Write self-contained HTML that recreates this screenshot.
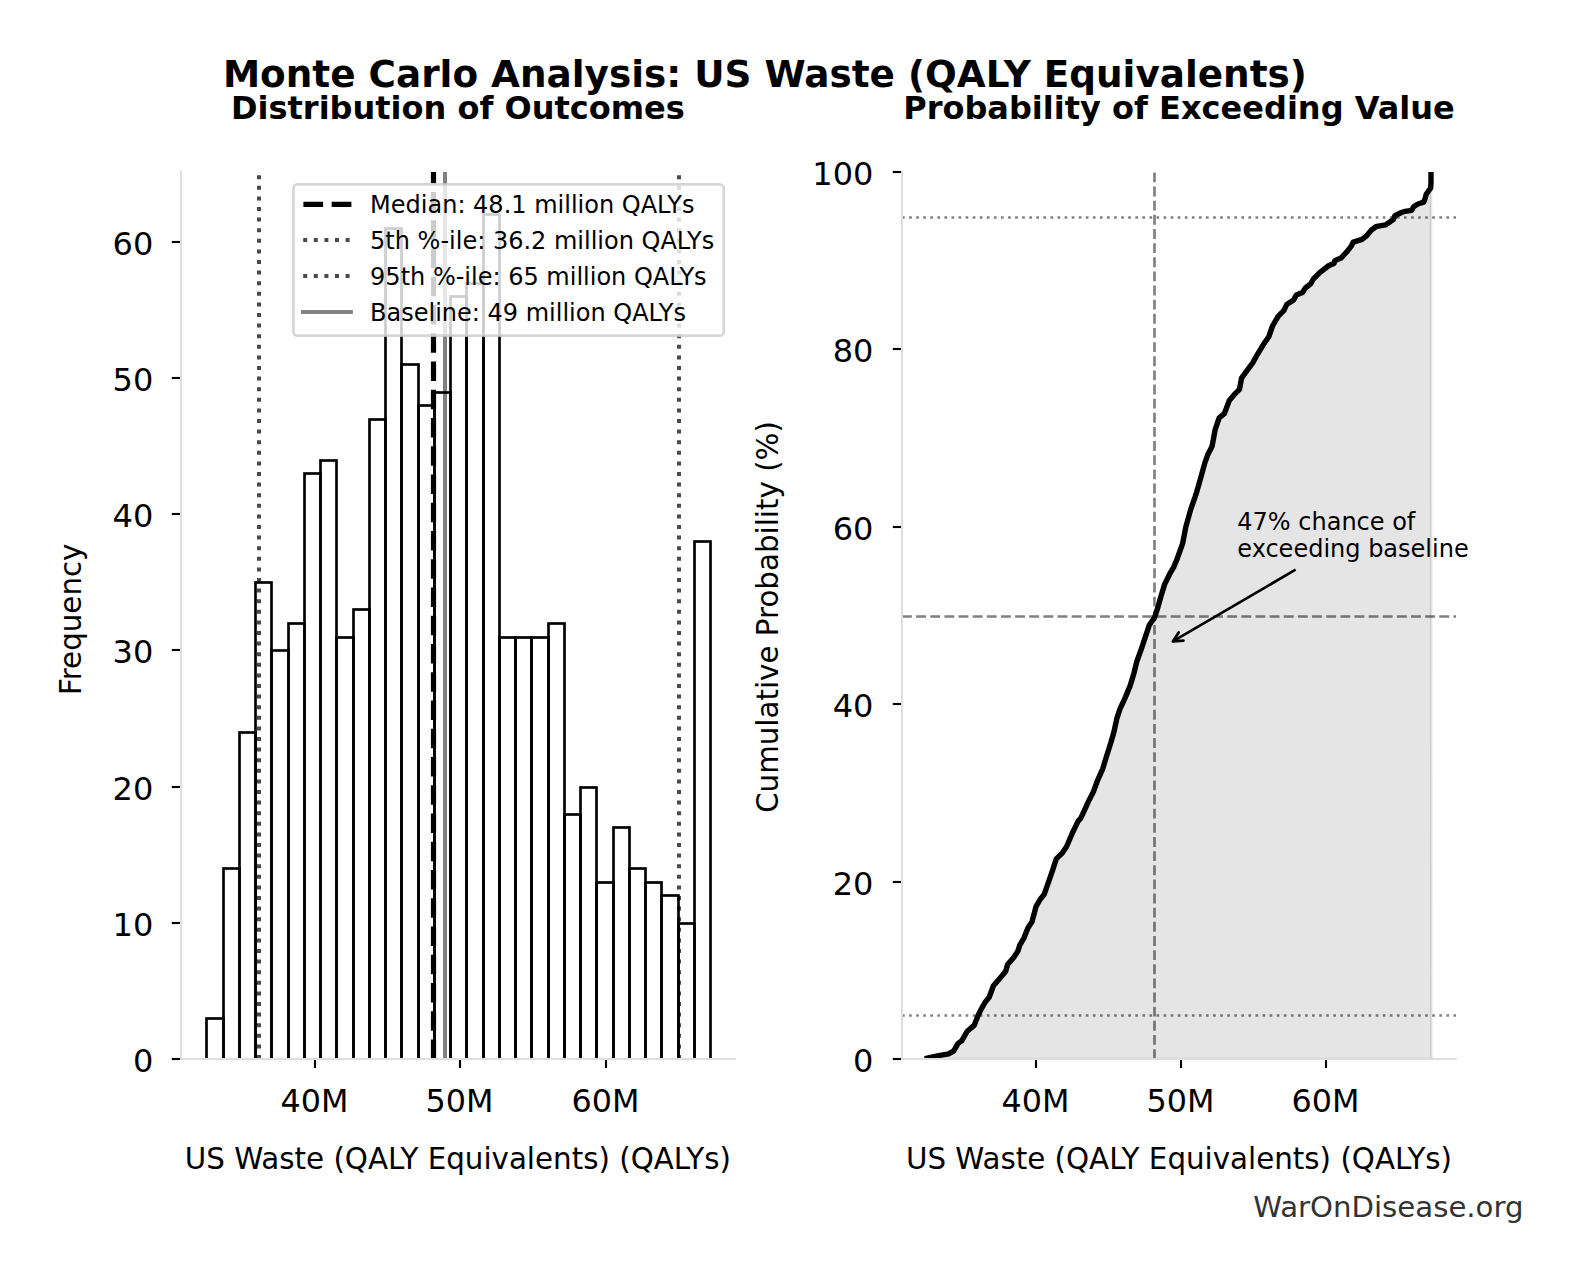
<!DOCTYPE html>
<html><head><meta charset="utf-8"><title>Monte Carlo Analysis</title>
<style>html,body{margin:0;padding:0;background:#fff}body{width:1580px;height:1280px;overflow:hidden}</style></head>
<body>
<svg width="1580" height="1280" viewBox="0 0 1580 1280" style="display:block;font-family:'DejaVu Sans','Liberation Sans',sans-serif">
<rect width="1580" height="1280" fill="#fff"/>
<text x="764.9" y="86.6" font-size="37.36" font-weight="bold" text-anchor="middle">Monte Carlo Analysis: US Waste (QALY Equivalents)</text>
<text x="457.9" y="119.3" font-size="32" font-weight="bold" text-anchor="middle">Distribution of Outcomes</text>
<text x="1179.0" y="119.3" font-size="32" font-weight="bold" text-anchor="middle">Probability of Exceeding Value</text>
<clipPath id="cl"><rect x="181.0" y="172.0" width="554.7" height="887.0"/></clipPath>
<g clip-path="url(#cl)">
<line x1="259" x2="259" y1="1059.0" y2="172.0" stroke="#4a4a4a" stroke-width="4" stroke-dasharray="4 6.6"/>
<line x1="679" x2="679" y1="1059.0" y2="172.0" stroke="#4a4a4a" stroke-width="4" stroke-dasharray="4 6.6"/>
<line x1="433.5" x2="433.5" y1="1059.0" y2="172.0" stroke="#000" stroke-width="5.2" stroke-dasharray="19.5 8.75"/>
<line x1="445" x2="445" y1="1059.0" y2="172.0" stroke="#808080" stroke-width="4"/>
<rect x="206.5" y="1018.5" width="17.0" height="42.5" fill="none" stroke="#000" stroke-width="2.67"/>
<rect x="223.5" y="868.5" width="16.0" height="192.5" fill="none" stroke="#000" stroke-width="2.67"/>
<rect x="239.5" y="732.5" width="16.0" height="328.5" fill="none" stroke="#000" stroke-width="2.67"/>
<rect x="255.5" y="582.5" width="16.0" height="478.5" fill="none" stroke="#000" stroke-width="2.67"/>
<rect x="271.5" y="650.5" width="17.0" height="410.5" fill="none" stroke="#000" stroke-width="2.67"/>
<rect x="288.5" y="623.5" width="16.0" height="437.5" fill="none" stroke="#000" stroke-width="2.67"/>
<rect x="304.5" y="473.5" width="16.0" height="587.5" fill="none" stroke="#000" stroke-width="2.67"/>
<rect x="320.5" y="460.5" width="16.0" height="600.5" fill="none" stroke="#000" stroke-width="2.67"/>
<rect x="336.5" y="637.5" width="17.0" height="423.5" fill="none" stroke="#000" stroke-width="2.67"/>
<rect x="353.5" y="609.5" width="16.0" height="451.5" fill="none" stroke="#000" stroke-width="2.67"/>
<rect x="369.5" y="419.5" width="16.0" height="641.5" fill="none" stroke="#000" stroke-width="2.67"/>
<rect x="385.5" y="228.5" width="16.0" height="832.5" fill="none" stroke="#000" stroke-width="2.67"/>
<rect x="401.5" y="364.5" width="17.0" height="696.5" fill="none" stroke="#000" stroke-width="2.67"/>
<rect x="418.5" y="405.5" width="16.0" height="655.5" fill="none" stroke="#000" stroke-width="2.67"/>
<rect x="434.5" y="392.5" width="16.0" height="668.5" fill="none" stroke="#000" stroke-width="2.67"/>
<rect x="450.5" y="296.5" width="16.0" height="764.5" fill="none" stroke="#000" stroke-width="2.67"/>
<rect x="466.5" y="283.5" width="17.0" height="777.5" fill="none" stroke="#000" stroke-width="2.67"/>
<rect x="483.5" y="214.5" width="16.0" height="846.5" fill="none" stroke="#000" stroke-width="2.67"/>
<rect x="499.5" y="637.5" width="16.0" height="423.5" fill="none" stroke="#000" stroke-width="2.67"/>
<rect x="515.5" y="637.5" width="16.0" height="423.5" fill="none" stroke="#000" stroke-width="2.67"/>
<rect x="531.5" y="637.5" width="17.0" height="423.5" fill="none" stroke="#000" stroke-width="2.67"/>
<rect x="548.5" y="623.5" width="16.0" height="437.5" fill="none" stroke="#000" stroke-width="2.67"/>
<rect x="564.5" y="814.5" width="16.0" height="246.5" fill="none" stroke="#000" stroke-width="2.67"/>
<rect x="580.5" y="787.5" width="16.0" height="273.5" fill="none" stroke="#000" stroke-width="2.67"/>
<rect x="596.5" y="882.5" width="17.0" height="178.5" fill="none" stroke="#000" stroke-width="2.67"/>
<rect x="613.5" y="827.5" width="16.0" height="233.5" fill="none" stroke="#000" stroke-width="2.67"/>
<rect x="629.5" y="868.5" width="16.0" height="192.5" fill="none" stroke="#000" stroke-width="2.67"/>
<rect x="645.5" y="882.5" width="16.0" height="178.5" fill="none" stroke="#000" stroke-width="2.67"/>
<rect x="661.5" y="895.5" width="17.0" height="165.5" fill="none" stroke="#000" stroke-width="2.67"/>
<rect x="678.5" y="923.5" width="16.0" height="137.5" fill="none" stroke="#000" stroke-width="2.67"/>
<rect x="694.5" y="541.5" width="16.0" height="519.5" fill="none" stroke="#000" stroke-width="2.67"/>
</g>
<line x1="181.0" x2="181.0" y1="171.0" y2="1060.0" stroke="#dedede" stroke-width="2"/>
<line x1="180.0" x2="736.0" y1="1059.0" y2="1059.0" stroke="#dedede" stroke-width="2"/>
<line x1="171.80" x2="180.0" y1="1059" y2="1059" stroke="#000" stroke-width="2.13"/>
<text x="153.3" y="1071.50" font-size="32" text-anchor="end">0</text>
<line x1="171.80" x2="180.0" y1="923" y2="923" stroke="#000" stroke-width="2.13"/>
<text x="153.3" y="935.50" font-size="32" text-anchor="end">10</text>
<line x1="171.80" x2="180.0" y1="787" y2="787" stroke="#000" stroke-width="2.13"/>
<text x="153.3" y="799.50" font-size="32" text-anchor="end">20</text>
<line x1="171.80" x2="180.0" y1="650" y2="650" stroke="#000" stroke-width="2.13"/>
<text x="153.3" y="662.50" font-size="32" text-anchor="end">30</text>
<line x1="171.80" x2="180.0" y1="514" y2="514" stroke="#000" stroke-width="2.13"/>
<text x="153.3" y="526.50" font-size="32" text-anchor="end">40</text>
<line x1="171.80" x2="180.0" y1="378" y2="378" stroke="#000" stroke-width="2.13"/>
<text x="153.3" y="390.50" font-size="32" text-anchor="end">50</text>
<line x1="171.80" x2="180.0" y1="242" y2="242" stroke="#000" stroke-width="2.13"/>
<text x="153.3" y="254.50" font-size="32" text-anchor="end">60</text>
<line x1="315" x2="315" y1="1060.0" y2="1068.0" stroke="#000" stroke-width="2.13"/>
<text x="314.4" y="1111.6" font-size="31.8" text-anchor="middle">40M</text>
<line x1="460" x2="460" y1="1060.0" y2="1068.0" stroke="#000" stroke-width="2.13"/>
<text x="459.4" y="1111.6" font-size="31.8" text-anchor="middle">50M</text>
<line x1="606" x2="606" y1="1060.0" y2="1068.0" stroke="#000" stroke-width="2.13"/>
<text x="605.4" y="1111.6" font-size="31.8" text-anchor="middle">60M</text>
<text x="457.8" y="1168.7" font-size="29.33" text-anchor="middle">US Waste (QALY Equivalents) (QALYs)</text>
<text transform="translate(80.8,619.3) rotate(-90)" font-size="29.33" text-anchor="middle">Frequency</text>
<rect x="293.4" y="184.4" width="430.4" height="151.3" rx="4.3" ry="4.3" fill="#fff" fill-opacity="0.8" stroke="#ccc" stroke-opacity="0.8" stroke-width="2.67"/>
<line x1="303.4" x2="351.4" y1="204.3" y2="204.3" stroke="#000" stroke-width="5.33" stroke-dasharray="19.73 8.53"/>
<line x1="303.2" x2="351.2" y1="240.1" y2="240.1" stroke="#4a4a4a" stroke-width="4" stroke-dasharray="4 6.6"/>
<line x1="303.2" x2="351.2" y1="276.0" y2="276.0" stroke="#4a4a4a" stroke-width="4" stroke-dasharray="4 6.6"/>
<line x1="301.0" x2="352.9" y1="311.9" y2="311.9" stroke="#808080" stroke-width="4"/>
<text x="370.1" y="212.70" font-size="24">Median: 48.1 million QALYs</text>
<text x="370.1" y="248.50" font-size="24">5th %-ile: 36.2 million QALYs</text>
<text x="370.1" y="285.40" font-size="24">95th %-ile: 65 million QALYs</text>
<text x="370.1" y="321.20" font-size="24">Baseline: 49 million QALYs</text>
<clipPath id="cr"><rect x="902.0" y="172.0" width="554.0" height="887.0"/></clipPath>
<g clip-path="url(#cr)">
<line x1="1154.5" x2="1154.5" y1="1059.0" y2="172.0" stroke="#808080" stroke-width="2.67" stroke-dasharray="9.87 4.27"/>
<line x1="902.0" x2="1456.0" y1="616.5" y2="616.5" stroke="#808080" stroke-width="2.67" stroke-dasharray="9.87 4.27"/>
<line x1="902.0" x2="1456.0" y1="217.5" y2="217.5" stroke="#808080" stroke-width="2.67" stroke-dasharray="2.67 4.4"/>
<line x1="902.0" x2="1456.0" y1="1015.5" y2="1015.5" stroke="#808080" stroke-width="2.67" stroke-dasharray="2.67 4.4"/>
<path d="M927.3,1058.2 L938.6,1055.6 L948.7,1053.8 L953.8,1050.8 L957.9,1043.7 L961.9,1040.6 L967.0,1031.5 L974.1,1025.4 L978.2,1015.2 L981.2,1009.1 L985.3,1002.0 L989.3,997.0 L993.4,985.8 L999.5,978.7 L1005.6,971.6 L1007.6,964.5 L1013.7,957.4 L1017.8,951.3 L1019.8,945.2 L1023.9,938.1 L1027.9,927.9 L1032.0,921.8 L1036.0,906.6 L1040.1,899.5 L1044.2,894.4 L1049.2,880.2 L1052.3,871.1 L1056.3,858.9 L1062.4,852.8 L1066.5,846.7 L1072.6,832.5 L1078.3,820.9 L1080.7,818.3 L1088.4,801.6 L1093.5,791.5 L1097.6,780.3 L1102.6,769.1 L1105.7,759.0 L1110.8,742.7 L1113.8,732.6 L1116.9,718.4 L1119.9,709.2 L1125.0,698.1 L1130.1,685.9 L1134.1,672.7 L1136.8,661.5 L1141.2,649.3 L1145.3,637.2 L1149.3,625.0 L1154.4,617.9 L1157.5,608.7 L1160.9,596.5 L1164.6,584.4 L1169.6,574.2 L1173.7,567.1 L1176.7,560.0 L1182.6,543.7 L1185.7,527.4 L1190.8,509.1 L1195.8,494.9 L1199.9,480.7 L1205.0,462.4 L1208.0,454.3 L1212.1,446.2 L1215.1,429.9 L1219.2,417.8 L1224.3,413.7 L1229.3,400.5 L1234.4,394.4 L1239.5,389.3 L1241.5,378.2 L1246.6,371.1 L1252.7,362.9 L1257.8,353.8 L1263.9,343.7 L1268.9,336.5 L1272.5,326.0 L1278.1,316.3 L1283.7,310.7 L1286.7,304.6 L1293.6,300.0 L1296.4,294.9 L1302.5,292.5 L1305.5,287.8 L1310.6,283.8 L1313.7,278.7 L1319.7,272.6 L1328.9,265.5 L1334.0,263.5 L1335.0,260.4 L1341.1,258.0 L1347.2,251.3 L1351.2,246.2 L1353.2,242.2 L1361.4,239.7 L1366.4,236.1 L1371.5,230.0 L1376.6,226.3 L1380.0,225.8 L1385.4,224.9 L1390.1,221.7 L1393.3,219.5 L1394.9,215.7 L1400.9,212.8 L1405.3,211.3 L1411.6,210.3 L1413.9,206.5 L1418.0,204.0 L1423.7,202.1 L1425.3,198.0 L1426.2,194.2 L1428.7,190.7 L1430.6,188.2 L1431.0,182.2 L1431.0,171.0 L1431.3,1059.0 L927.3,1059.0 Z" fill="#000" fill-opacity="0.1" stroke="#000" stroke-opacity="0.1" stroke-width="2.67"/>
<path d="M927.3,1058.2 L938.6,1055.6 L948.7,1053.8 L953.8,1050.8 L957.9,1043.7 L961.9,1040.6 L967.0,1031.5 L974.1,1025.4 L978.2,1015.2 L981.2,1009.1 L985.3,1002.0 L989.3,997.0 L993.4,985.8 L999.5,978.7 L1005.6,971.6 L1007.6,964.5 L1013.7,957.4 L1017.8,951.3 L1019.8,945.2 L1023.9,938.1 L1027.9,927.9 L1032.0,921.8 L1036.0,906.6 L1040.1,899.5 L1044.2,894.4 L1049.2,880.2 L1052.3,871.1 L1056.3,858.9 L1062.4,852.8 L1066.5,846.7 L1072.6,832.5 L1078.3,820.9 L1080.7,818.3 L1088.4,801.6 L1093.5,791.5 L1097.6,780.3 L1102.6,769.1 L1105.7,759.0 L1110.8,742.7 L1113.8,732.6 L1116.9,718.4 L1119.9,709.2 L1125.0,698.1 L1130.1,685.9 L1134.1,672.7 L1136.8,661.5 L1141.2,649.3 L1145.3,637.2 L1149.3,625.0 L1154.4,617.9 L1157.5,608.7 L1160.9,596.5 L1164.6,584.4 L1169.6,574.2 L1173.7,567.1 L1176.7,560.0 L1182.6,543.7 L1185.7,527.4 L1190.8,509.1 L1195.8,494.9 L1199.9,480.7 L1205.0,462.4 L1208.0,454.3 L1212.1,446.2 L1215.1,429.9 L1219.2,417.8 L1224.3,413.7 L1229.3,400.5 L1234.4,394.4 L1239.5,389.3 L1241.5,378.2 L1246.6,371.1 L1252.7,362.9 L1257.8,353.8 L1263.9,343.7 L1268.9,336.5 L1272.5,326.0 L1278.1,316.3 L1283.7,310.7 L1286.7,304.6 L1293.6,300.0 L1296.4,294.9 L1302.5,292.5 L1305.5,287.8 L1310.6,283.8 L1313.7,278.7 L1319.7,272.6 L1328.9,265.5 L1334.0,263.5 L1335.0,260.4 L1341.1,258.0 L1347.2,251.3 L1351.2,246.2 L1353.2,242.2 L1361.4,239.7 L1366.4,236.1 L1371.5,230.0 L1376.6,226.3 L1380.0,225.8 L1385.4,224.9 L1390.1,221.7 L1393.3,219.5 L1394.9,215.7 L1400.9,212.8 L1405.3,211.3 L1411.6,210.3 L1413.9,206.5 L1418.0,204.0 L1423.7,202.1 L1425.3,198.0 L1426.2,194.2 L1428.7,190.7 L1430.6,188.2 L1431.0,182.2 L1431.0,171.0" fill="none" stroke="#000" stroke-width="5.4" stroke-linejoin="round" stroke-linecap="square"/>
</g>
<line x1="902.0" x2="902.0" y1="171.0" y2="1060.0" stroke="#dedede" stroke-width="2"/>
<line x1="901.0" x2="1456.8" y1="1059.0" y2="1059.0" stroke="#dedede" stroke-width="2"/>
<line x1="892.80" x2="901.0" y1="1059" y2="1059" stroke="#000" stroke-width="2.13"/>
<text x="873.4" y="1071.80" font-size="32" text-anchor="end">0</text>
<line x1="892.80" x2="901.0" y1="882" y2="882" stroke="#000" stroke-width="2.13"/>
<text x="873.4" y="894.80" font-size="32" text-anchor="end">20</text>
<line x1="892.80" x2="901.0" y1="704" y2="704" stroke="#000" stroke-width="2.13"/>
<text x="873.4" y="716.80" font-size="32" text-anchor="end">40</text>
<line x1="892.80" x2="901.0" y1="527" y2="527" stroke="#000" stroke-width="2.13"/>
<text x="873.4" y="539.80" font-size="32" text-anchor="end">60</text>
<line x1="892.80" x2="901.0" y1="349" y2="349" stroke="#000" stroke-width="2.13"/>
<text x="873.4" y="361.80" font-size="32" text-anchor="end">80</text>
<line x1="892.80" x2="901.0" y1="172" y2="172" stroke="#000" stroke-width="2.13"/>
<text x="873.4" y="184.80" font-size="32" text-anchor="end">100</text>
<line x1="1036" x2="1036" y1="1060.0" y2="1068.0" stroke="#000" stroke-width="2.13"/>
<text x="1035.4" y="1111.6" font-size="31.8" text-anchor="middle">40M</text>
<line x1="1181" x2="1181" y1="1060.0" y2="1068.0" stroke="#000" stroke-width="2.13"/>
<text x="1180.4" y="1111.6" font-size="31.8" text-anchor="middle">50M</text>
<line x1="1326" x2="1326" y1="1060.0" y2="1068.0" stroke="#000" stroke-width="2.13"/>
<text x="1325.4" y="1111.6" font-size="31.8" text-anchor="middle">60M</text>
<text x="1179.0" y="1168.5" font-size="29.33" text-anchor="middle">US Waste (QALY Equivalents) (QALYs)</text>
<text transform="translate(778.4,617) rotate(-90)" font-size="29.33" text-anchor="middle">Cumulative Probability (%)</text>
<text x="1237.3" y="529.9" font-size="24">47% chance of</text>
<text x="1237.3" y="557.2" font-size="24">exceeding baseline</text>
<path d="M1295.6,569.7 L1172.8,641.4" stroke="#000" stroke-width="2.67" fill="none"/>
<path d="M1178.7,632.4 L1172.8,641.4 L1183.5,640.7" stroke="#000" stroke-width="2.67" fill="none" stroke-linejoin="round" stroke-linecap="round"/>
<text x="1523.5" y="1217.0" font-size="29.2" fill="#333" text-anchor="end">WarOnDisease.org</text>
</svg>
</body></html>
